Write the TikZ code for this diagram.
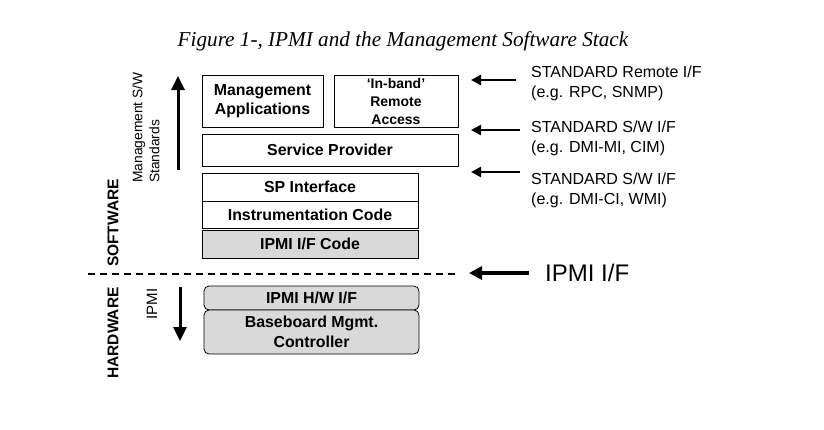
\documentclass[tikz,border=0pt]{standalone}
\usepackage{fontspec}
\setmainfont{Liberation Sans}
\newfontfamily\titlefont{Liberation Serif}
\usetikzlibrary{arrows.meta}
\begin{document}
\begin{tikzpicture}[x=1pt,y=-1pt,
  swbox/.style={draw=black,line width=0.8pt,font=\fontsize{15.9}{19.5}\selectfont\bfseries,align=center,inner sep=0pt},
  grey/.style={fill=black!15},
  hwbox/.style={swbox,grey,rounded corners=5pt},
  bigarrow/.style={line width=3pt,-{Triangle[length=14pt,width=13pt]}},
  stdarrow/.style={line width=2.4pt,-{Triangle[length=10pt,width=10pt]}},
  ipmiarrow/.style={line width=3.4pt,-{Triangle[length=13pt,width=13pt]}},
  stdtext/.style={font=\fontsize{16}{20}\selectfont,align=left,anchor=west,inner sep=0pt},
  vlabel/.style={rotate=90,inner sep=0pt}
]
\useasboundingbox (0,0) rectangle (824,429);

% title
\node[font=\titlefont\itshape\fontsize{21.2}{24}\selectfont] (title) at (403,41) {Figure 1-, IPMI and the Management Software Stack};

% software boxes
\node[swbox,minimum width=121pt,minimum height=52pt] (mgmt) at (262.5,101) {Management\\Applications};
\node[swbox,minimum width=124pt,minimum height=52pt,font=\fontsize{14}{18}\selectfont\bfseries] (inband) at (396,101) {‘In-band’\\Remote\\Access};
\node[swbox,minimum width=256pt,minimum height=32pt] (sp) at (330,150) {Service Provider};
\node[swbox,minimum width=216pt,minimum height=28pt] (spi) at (310,187) {SP Interface};
\node[swbox,minimum width=216pt,minimum height=27pt] (instr) at (310,214.5) {Instrumentation Code};
\node[swbox,grey,minimum width=216pt,minimum height=28pt] (ipmicode) at (310,244) {IPMI I/F Code};

% hardware boxes
\node[hwbox,minimum width=215pt,minimum height=24pt] (hwif) at (311.5,298) {IPMI H/W I/F};
\node[hwbox,minimum width=215pt,minimum height=44pt] (bmc) at (311.5,332) {Baseboard Mgmt.\\Controller};

% dashed separator
\coordinate (dashL) at (88,274);
\coordinate (dashR) at (458,274);
\draw[line width=1.2pt,dash pattern=on 7pt off 5pt] (dashL) -- (dashR);

% left labels
\node[vlabel,anchor=west,align=left,font=\fontsize{13.8}{17}\selectfont] (mswlabel) at (146,183) {Management S/W\\Standards};
\node[vlabel,font=\fontsize{15.5}{18}\selectfont\bfseries] (swlabel) at (113,223) {SOFTWARE};
\node[vlabel,font=\fontsize{15.5}{18}\selectfont\bfseries] (hwlabel) at (113,333) {HARDWARE};
\node[vlabel,font=\fontsize{15}{18}\selectfont] (ipmilabel) at (152,304) {IPMI};

% vertical arrows
\coordinate (upS) at (178,170);
\coordinate (upE) at (178,76);
\draw[bigarrow] (upS) -- (upE);
\coordinate (dnS) at (180,287);
\coordinate (dnE) at (180,341);
\draw[bigarrow] (dnS) -- (dnE);

% right side standards
\node[stdtext] (std1) at (531,83) {STANDARD Remote I/F\\(e.g. RPC, SNMP)};
\node[stdtext] (std2) at (531,138) {STANDARD S/W I/F\\(e.g. DMI-MI, CIM)};
\node[stdtext] (std3) at (531,190) {STANDARD S/W I/F\\(e.g. DMI-CI, WMI)};
\node[anchor=west,inner sep=0pt,font=\fontsize{24}{28}\selectfont] (ipmiif) at (545,273) {IPMI I/F};

\coordinate (a1S) at (516,80);  \coordinate (a1E) at (471,80);
\coordinate (a2S) at (520,130); \coordinate (a2E) at (471,130);
\coordinate (a3S) at (520,172); \coordinate (a3E) at (471,172);
\coordinate (a4S) at (529,273); \coordinate (a4E) at (469,273);
\draw[stdarrow] (a1S) -- (a1E);
\draw[stdarrow] (a2S) -- (a2E);
\draw[stdarrow] (a3S) -- (a3E);
\draw[ipmiarrow] (a4S) -- (a4E);
\end{tikzpicture}
\end{document}
